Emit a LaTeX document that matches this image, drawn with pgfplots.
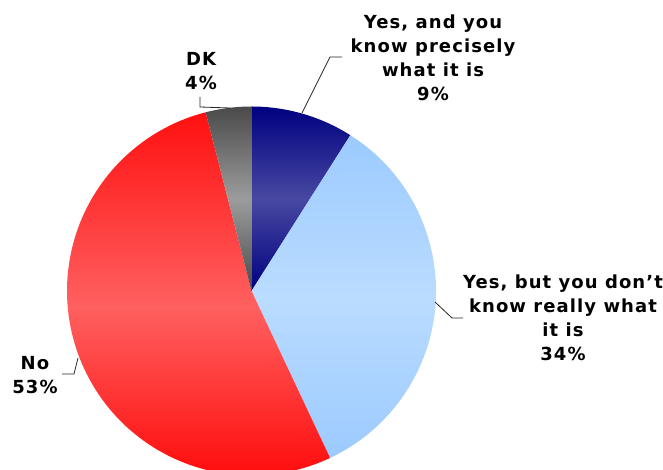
\documentclass[border=0pt]{standalone}
\usepackage{pgfplots}
\usepackage{pgfplotstable}
\pgfplotsset{compat=1.18}
\usepackage{fontspec}
\setmainfont{DejaVu Sans}
\newfontfamily\lblfont[LetterSpace=6]{DejaVu Sans}

\definecolor{navyA}{RGB}{0,0,128}
\definecolor{navyB}{RGB}{72,72,162}
\definecolor{ltA}{RGB}{156,202,255}
\definecolor{ltB}{RGB}{186,220,255}
\definecolor{redA}{RGB}{255,16,16}
\definecolor{redB}{RGB}{255,96,96}
\definecolor{redC}{RGB}{255,0,0}
\definecolor{grA}{RGB}{74,74,74}
\definecolor{grB}{RGB}{156,156,156}

\pgfplotstableread{
label value
precisely 9
notreally 34
no 53
dk 4
}\piedata

\begin{document}
\begin{tikzpicture}
\pgfplotstablegetelem{0}{value}\of\piedata \let\vA\pgfplotsretval
\pgfplotstablegetelem{1}{value}\of\piedata \let\vB\pgfplotsretval
\pgfplotstablegetelem{2}{value}\of\piedata \let\vC\pgfplotsretval
\pgfplotstablegetelem{3}{value}\of\piedata \let\vD\pgfplotsretval
\pgfmathsetmacro\aA{90}
\pgfmathsetmacro\aB{\aA-3.6*\vA}
\pgfmathsetmacro\aC{\aB-3.6*\vB}
\pgfmathsetmacro\aD{\aC-3.6*\vC}
\pgfmathsetmacro\aE{\aD-3.6*\vD}
\def\R{184.5pt}
\begin{axis}[
  x=1pt, y=1pt,
  xmin=0, xmax=663, ymin=0, ymax=470,
  hide axis,
  clip=true,
]
\path (axis cs:0,0) rectangle (axis cs:663,470);
% slices
\shade[top color=navyA, bottom color=navyA, middle color=navyB]
  (axis cs:251.5,179) -- ++(\aA:\R) arc[start angle=\aA, end angle=\aB, radius=\R] -- cycle;
\shade[top color=ltA, bottom color=ltA, middle color=ltB]
  (axis cs:251.5,179) -- ++(\aB:\R) arc[start angle=\aB, end angle=\aC, radius=\R] -- cycle;
\shade[top color=redA, bottom color=redC, middle color=redB]
  (axis cs:251.5,179) -- ++(\aC:\R) arc[start angle=\aC, end angle=\aD, radius=\R] -- cycle;
\shade[top color=grA, bottom color=grA, middle color=grB]
  (axis cs:251.5,179) -- ++(\aD:\R) arc[start angle=\aD, end angle=\aE, radius=\R] -- cycle;
% leader lines
\draw[line width=0.8pt, black!85] (axis cs:302,357) -- (axis cs:330,413) -- (axis cs:342,413);
\draw[line width=0.8pt, black!85] (axis cs:435,168) -- (axis cs:452,152) -- (axis cs:463,152);
\draw[line width=0.8pt, black!85] (axis cs:200,373) -- (axis cs:200,363) -- (axis cs:230,362);
\draw[line width=0.8pt, black!85] (axis cs:62,96) -- (axis cs:74,96) -- (axis cs:78,112);
% labels
\tikzset{lbl/.style={align=center, inner sep=0pt, font=\lblfont\bfseries\fontsize{18}{24}\selectfont}}
\node[lbl] at (axis cs:433,412) {Yes, and you\\know precisely\\what it is\\9\%};
\node[lbl] at (axis cs:563,152) {Yes, but you don’t\\know really what\\it is\\34\%};
\node[lbl] at (axis cs:201,398.5) {DK\\4\%};
\node[lbl] at (axis cs:35,95) {No\\53\%};
\end{axis}
\end{tikzpicture}
\end{document}
